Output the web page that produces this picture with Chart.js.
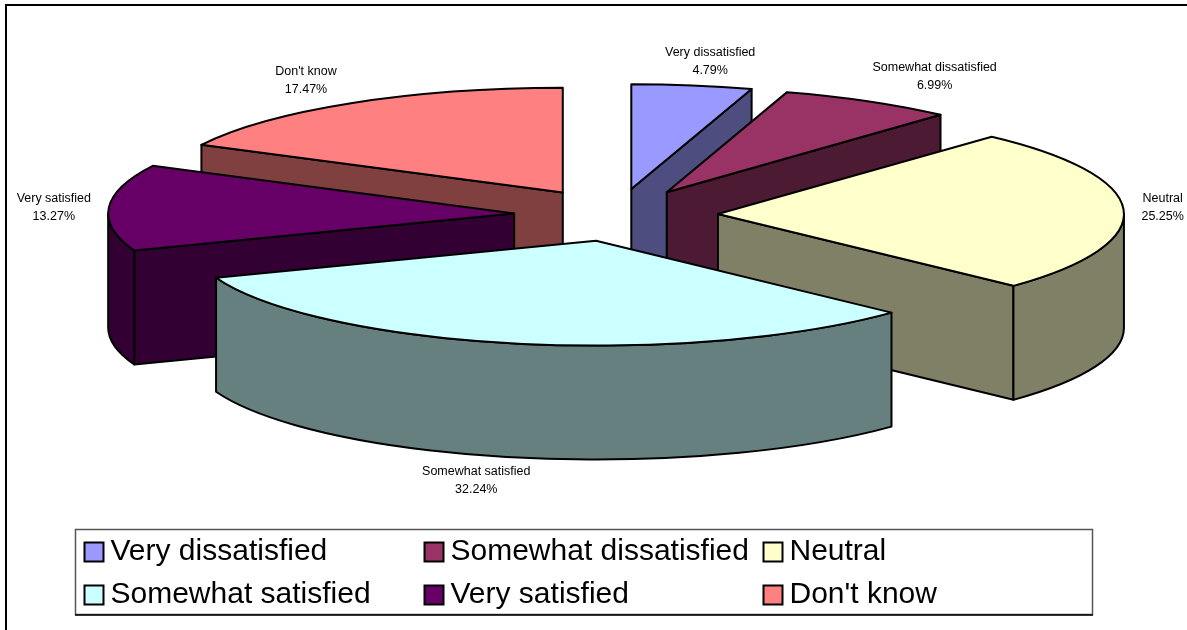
<!DOCTYPE html>
<html>
<head>
<meta charset="utf-8">
<style>
    html, body { margin: 0; padding: 0; background: #fff; }
    canvas { display: block; }
</style>
<script src="https://cdn.jsdelivr.net/npm/chart.js@4"></script>
</head>
<body>
<canvas id="chart" width="1187" height="630"></canvas>
<script>
const labels = ['Very dissatisfied', 'Somewhat dissatisfied', 'Neutral', 'Somewhat satisfied', 'Very satisfied', "Don't know"];
const values = [4.79, 6.99, 25.25, 32.24, 13.27, 17.47];
const topColors = ['#9999ff', '#993366', '#ffffcc', '#ccffff', '#660066', '#ff8080'];
const wallColors = ['#4d4d80', '#4d1a33', '#808066', '#668080', '#330033', '#804040'];

// back to front
const paintOrder = [5, 0, 1, 2, 4, 3];

const SQUASH = 0.258;
const DEPTH = 114;
const EXPLODE = 102;
const RADIUS = 406;

// label nudges from the rim of each slice
const labelShift = [[18, -24], [66, -25], [39, -3], [-40, 137], [-55, 0], [-45, -23]];

function squash(ctx, cy) {
    ctx.translate(0, cy);
    ctx.scale(1, SQUASH);
    ctx.translate(0, -cy);
}

function outline(ctx, fill) {
    ctx.fillStyle = fill;
    ctx.fill();
    ctx.stroke();
}

function cutFace(ctx, p, angle, fill) {
    const ex = p.x + Math.cos(angle) * p.outerRadius;
    const ey = p.y + Math.sin(angle) * p.outerRadius * SQUASH;
    ctx.beginPath();
    ctx.moveTo(p.x, p.y);
    ctx.lineTo(ex, ey);
    ctx.lineTo(ex, ey + DEPTH);
    ctx.lineTo(p.x, p.y + DEPTH);
    ctx.closePath();
    outline(ctx, fill);
}

function outerWall(ctx, p, fill) {
    // only the part of the rim that faces the viewer
    const from = Math.max(p.startAngle, 0);
    const to = Math.min(p.endAngle, Math.PI);
    if (to <= from) return;
    ctx.save();
    squash(ctx, p.y);
    ctx.beginPath();
    ctx.arc(p.x, p.y, p.outerRadius, from, to);
    ctx.arc(p.x, p.y + DEPTH / SQUASH, p.outerRadius, to, from, true);
    ctx.closePath();
    ctx.restore();
    outline(ctx, fill);
}

const pie3d = {
    id: 'pie3d',
    beforeDatasetsDraw(chart) {
        const ctx = chart.ctx;
        const arcs = chart.getDatasetMeta(0).data;
        ctx.save();
        ctx.strokeStyle = '#000';
        ctx.lineWidth = 2;
        ctx.lineJoin = 'round';

        paintOrder.forEach(i => {
            const arc = arcs[i];
            const p = arc.getProps(['x', 'y', 'startAngle', 'endAngle', 'outerRadius']);
            const mid = (p.startAngle + p.endAngle) / 2;
            const moved = {
                x: p.x + Math.cos(mid) * EXPLODE,
                y: p.y + Math.sin(mid) * EXPLODE * SQUASH,
                startAngle: p.startAngle,
                endAngle: p.endAngle,
                outerRadius: p.outerRadius,
            };

            if (Math.cos(p.startAngle) < 0) cutFace(ctx, moved, p.startAngle, wallColors[i]);
            if (Math.cos(p.endAngle) > 0) cutFace(ctx, moved, p.endAngle, wallColors[i]);
            outerWall(ctx, moved, wallColors[i]);

            // top face comes from the library's own arc element
            ctx.save();
            squash(ctx, p.y);
            ctx.translate(Math.cos(mid) * EXPLODE, Math.sin(mid) * EXPLODE);
            arc.draw(ctx);
            ctx.beginPath();
            ctx.moveTo(p.x, p.y);
            ctx.arc(p.x, p.y, p.outerRadius, p.startAngle, p.endAngle);
            ctx.closePath();
            ctx.restore();
            ctx.stroke();
        });
        ctx.restore();
        return false;
    },
    afterDraw(chart) {
        const ctx = chart.ctx;
        const arcs = chart.getDatasetMeta(0).data;
        ctx.save();

        // frame, cut off at the right and bottom of the picture
        ctx.strokeStyle = '#000';
        ctx.lineWidth = 2;
        ctx.beginPath();
        ctx.moveTo(6, 630);
        ctx.lineTo(6, 5);
        ctx.lineTo(1187, 5);
        ctx.stroke();

        // slice labels
        ctx.fillStyle = '#000';
        ctx.font = '12.5px "Liberation Sans", Arial, sans-serif';
        ctx.textAlign = 'center';
        ctx.textBaseline = 'middle';
        arcs.forEach((arc, i) => {
            const p = arc.getProps(['x', 'y', 'startAngle', 'endAngle', 'outerRadius']);
            const mid = (p.startAngle + p.endAngle) / 2;
            const x = p.x + Math.cos(mid) * (EXPLODE + p.outerRadius) + labelShift[i][0];
            const y = p.y + Math.sin(mid) * (EXPLODE + p.outerRadius) * SQUASH + labelShift[i][1];
            ctx.fillText(labels[i], x, y - 9);
            ctx.fillText(values[i].toFixed(2) + '%', x, y + 9);
        });

        // legend box
        ctx.strokeStyle = '#555';
        ctx.lineWidth = 1.5;
        ctx.strokeRect(75.5, 529.5, 1017, 85);
        ctx.strokeStyle = '#000';
        ctx.beginPath();
        ctx.moveTo(75, 615);
        ctx.lineTo(1093, 615);
        ctx.stroke();

        ctx.font = '30px "Liberation Sans", Arial, sans-serif';
        ctx.textAlign = 'left';
        const columns = [84.5, 424.5, 763.5];
        const rows = [552, 595];
        labels.forEach((text, i) => {
            const x = columns[i % 3];
            const y = rows[Math.floor(i / 3)];
            ctx.fillStyle = topColors[i];
            ctx.strokeStyle = '#000';
            ctx.lineWidth = 2;
            ctx.fillRect(x, y - 9.5, 19, 19);
            ctx.strokeRect(x, y - 9.5, 19, 19);
            ctx.fillStyle = '#000';
            ctx.fillText(text, x + 26, y);
        });
        ctx.restore();
    }
};

new Chart(document.getElementById('chart'), {
    type: 'pie',
    data: {
        labels: labels,
        datasets: [{
            data: values,
            backgroundColor: topColors,
            borderWidth: 0,
            clip: false,
        }]
    },
    options: {
        responsive: false,
        animation: false,
        events: [],
        radius: RADIUS,
        // puts the pie centre at 616,215
        layout: { padding: { left: 45, top: 0, right: 0, bottom: 200 } },
        plugins: {
            legend: { display: false },
            tooltip: { enabled: false },
        },
    },
    plugins: [pie3d],
});
</script>
</body>
</html>
